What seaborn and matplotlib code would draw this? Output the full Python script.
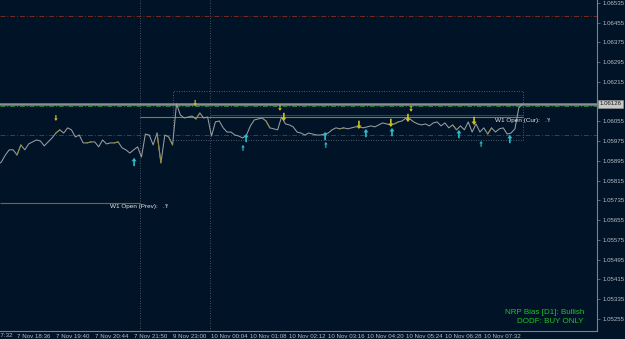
import matplotlib
matplotlib.use("Agg")
import matplotlib.pyplot as plt
import matplotlib.transforms as mtransforms
import seaborn as sns
from matplotlib.patches import Rectangle

# ---- data (x = bar slot, y = price) ----
bars = list(range(5, 141))
prices = [
    1.05879, 1.05891, 1.05919, 1.05940, 1.05940, 1.05919, 1.05960, 1.05940, 1.05964, 1.05972,
    1.05980, 1.05976, 1.05956, 1.05972, 1.05988, 1.06008, 1.06021, 1.06008, 1.06029, 1.06021,
    1.05992, 1.06000, 1.05968, 1.05968, 1.05972, 1.05972, 1.05952, 1.05980, 1.05964, 1.05968,
    1.05968, 1.05972, 1.05948, 1.05940, 1.05927, 1.05940, 1.05952, 1.05911, 1.06004, 1.06000,
    1.05960, 1.06008, 1.05887, 1.06000, 1.05992, 1.05960, 1.06126, 1.06081, 1.06069, 1.06073,
    1.06077, 1.06065, 1.06089, 1.06069, 1.06073, 1.05996, 1.06053, 1.06057, 1.06029, 1.06012,
    1.06012, 1.06000, 1.05996, 1.05988, 1.06000, 1.06037, 1.06061, 1.06065, 1.06069, 1.06057,
    1.06029, 1.06025, 1.06021, 1.06073, 1.06045, 1.06041, 1.06033, 1.06012, 1.06008, 1.06000,
    1.06008, 1.06004, 1.06000, 1.06000, 1.06004, 1.06008, 1.06021, 1.06029, 1.06025, 1.06029,
    1.06025, 1.06029, 1.06033, 1.06033, 1.06029, 1.06033, 1.06037, 1.06033, 1.06041, 1.06049,
    1.06045, 1.06041, 1.06045, 1.06053, 1.06057, 1.06069, 1.06065, 1.06053, 1.06045, 1.06041,
    1.06045, 1.06037, 1.06049, 1.06053, 1.06037, 1.06049, 1.06029, 1.06041, 1.06021, 1.06037,
    1.06021, 1.06053, 1.06012, 1.06045, 1.06012, 1.06029, 1.06004, 1.06029, 1.06012, 1.06025,
    1.06029, 1.06004, 1.06008, 1.06025, 1.06110, 1.06126,
]
highlight_bars = [10, 20, 28, 35, 46, 49, 56, 74, 93, 107, 122, 131]

sell_x = [20.0, 55.8, 77.6, 78.6, 97.9, 106.1, 110.5, 111.3, 127.5]
sell_y = [1.06069, 1.06130, 1.06110, 1.06073, 1.06041, 1.06049, 1.06069, 1.06106, 1.06057]
sell_big = [False, False, False, True, True, True, True, False, True]

buy_x = [40.1, 68.1, 68.9, 89.2, 89.4, 99.7, 106.4, 123.6, 129.3, 136.7]
buy_y = [1.05891, 1.05948, 1.05988, 1.05996, 1.05960, 1.06008, 1.06012, 1.06004, 1.05964, 1.05984]
buy_big = [True, False, True, True, False, True, True, True, False, True]

bid = 1.06126
ask_level = 1.06118
red_levels = [1.06482, 1.06000]
w1_open_prev = 1.05725
w1_open_cur = 1.06073
d1_open = 1.06080
range_box = (50.1, 140.1, 1.05980, 1.06178)   # bar from, bar to, low, high
separators = [41.6, 59.6]
week_start_bar = 41.6
last_bar = 140.1

x_tick_bars = [0, 10, 20, 30, 40, 50, 60, 70, 80, 90, 100, 110, 120, 130]
x_tick_labels = ["7 Nov 17:32", "7 Nov 18:36", "7 Nov 19:40", "7 Nov 20:44", "7 Nov 21:50",
                 "9 Nov 23:00", "10 Nov 00:04", "10 Nov 01:08", "10 Nov 02:12", "10 Nov 03:16",
                 "10 Nov 04:20", "10 Nov 05:24", "10 Nov 06:28", "10 Nov 07:32"]
y_ticks = [1.06535, 1.06455, 1.06375, 1.06295, 1.06215, 1.06055, 1.05975, 1.05895,
           1.05815, 1.05735, 1.05655, 1.05575, 1.05495, 1.05415, 1.05335, 1.05255]

# ---- style ----
bg = "#011327"
axis_col = "#7b828c"
label_col = "#b6bcc4"
sns.set_style("dark", {"axes.facecolor": bg, "figure.facecolor": bg,
                       "axes.edgecolor": axis_col, "axes.grid": False})
plt.rcParams["font.family"] = ["Liberation Sans", "DejaVu Sans"]

fig = plt.figure(figsize=(6.25, 3.39), dpi=100)
ax = fig.add_axes([0, 8 / 339, 597 / 625, 331 / 339])
ax.set_xlim(5.63, 159.1)
ax.set_ylim(1.05206, 1.06547)

# levels and separators
for sx in separators:
    ax.axvline(sx, color="#5f6b78", ls=(0, (1, 2)), lw=0.6, zorder=1)
for lv in red_levels:
    ax.axhline(lv, color="#7a2a20", ls=(0, (5, 2, 1, 2)), lw=0.7, zorder=1)
ax.axhline(bid, color="#8a8e92", lw=1.8, zorder=1)
ax.axhline(ask_level, color="#24803a", ls=(0, (5, 2, 1, 2)), lw=0.7, zorder=1)
ax.hlines(w1_open_prev, 5.63, week_start_bar, color="#8c5e26", lw=0.8, zorder=1)
ax.hlines(d1_open, separators[1], last_bar, color="#256e30", lw=0.5, zorder=1)
ax.hlines(w1_open_cur, week_start_bar, last_bar, color="#8a8418", lw=0.8, zorder=1)
x0, x1, lo, hi = range_box
ax.add_patch(Rectangle((x0, lo), x1 - x0, hi - lo, fill=False, ec="#6a7480",
                       ls=(0, (1, 2)), lw=0.6, zorder=1))

# price line
sns.lineplot(x=bars, y=prices, ax=ax, color="#9a9da2", lw=0.75, zorder=3)
for b in highlight_bars:
    i = bars.index(b)
    ax.plot(bars[i:i + 2], prices[i:i + 2], color="#8f8a3a", lw=0.75, zorder=4)

# signal arrows
up_arrow = [(0, 1), (-0.6, 0.15), (-0.2, 0.15), (-0.2, -1), (0.2, -1), (0.2, 0.15), (0.6, 0.15)]
down_arrow = [(x, -y) for x, y in up_arrow]
for xs, ys, big, mk, col in [(sell_x, sell_y, sell_big, down_arrow, "#cfc020"),
                             (buy_x, buy_y, buy_big, up_arrow, "#2cbcca")]:
    sizes = [36 if b else 18 for b in big]
    sns.scatterplot(x=xs, y=ys, size=sizes, sizes=(18, 36), marker=mk, color=col,
                    edgecolor="none", legend=False, ax=ax, zorder=5)

# axes
for side in ["top", "left"]:
    ax.spines[side].set_visible(False)
for side in ["right", "bottom"]:
    ax.spines[side].set_color(axis_col)
    ax.spines[side].set_linewidth(0.8)
ax.yaxis.tick_right()
ax.set_yticks(y_ticks)
ax.set_yticklabels([f"{v:.5f}" for v in y_ticks])
ax.set_xticks(x_tick_bars[1:])
ax.set_xticklabels(x_tick_labels[1:], ha="left")
ax.tick_params(axis="y", colors=axis_col, labelcolor=label_col, labelsize=4.4,
               length=2, width=0.5, pad=2)
ax.tick_params(axis="x", colors=axis_col, labelcolor=label_col, labelsize=4.4,
               length=2, width=0.5, pad=0.5)
ax.set_xlabel("")
ax.set_ylabel("")
xt = mtransforms.blended_transform_factory(ax.transData, ax.transAxes)
ax.text(x_tick_bars[0] + 0.3, -0.005, x_tick_labels[0], transform=xt, ha="left", va="top",
        fontsize=4.4, color=label_col, clip_on=False)

# price tag on the scale
yt = mtransforms.blended_transform_factory(ax.transAxes, ax.transData)
ax.text(1.004, bid, f"{bid:.5f}", transform=yt, ha="left", va="center", fontsize=4.4,
        color="#1b1b1b", clip_on=False,
        bbox=dict(boxstyle="square,pad=0.3", fc="#c8c8c8", ec="#9a9a9a", lw=0.4))

# labels
ax.text(33.9, w1_open_prev - 0.00016, "W1 Open (Prev):   .'f", ha="left", va="center",
        fontsize=4.6, color="#e4e6ea")
ax.text(132.9, w1_open_cur - 0.00016, "W1 Open (Cur):   .'f", ha="left", va="center",
        fontsize=4.6, color="#e4e6ea")
ax.text(0.978, 0.0574, "NRP Bias [D1]: Bullish", transform=ax.transAxes, ha="right",
        va="center", fontsize=5.8, color="#22c422")
ax.text(0.978, 0.0272, "DODF: BUY ONLY", transform=ax.transAxes, ha="right",
        va="center", fontsize=5.8, color="#22c422")

fig.savefig("out.png", dpi=100, facecolor=bg)
